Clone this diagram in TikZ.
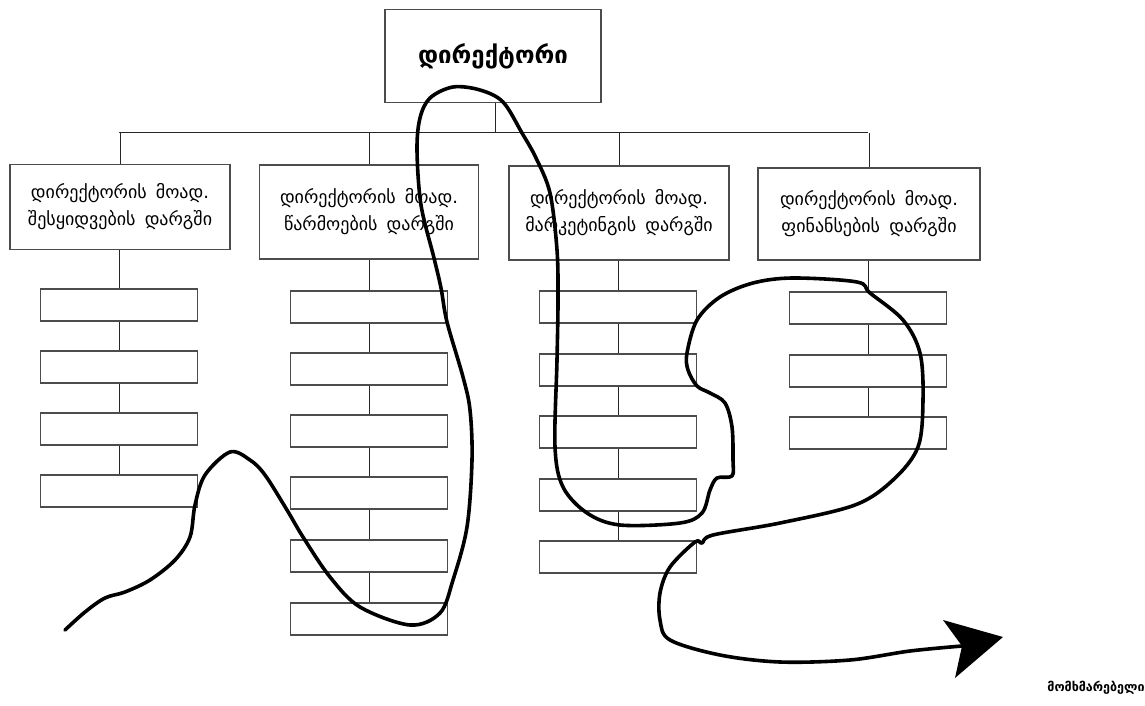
\documentclass[tikz,border=0pt]{standalone}
\usepackage{fontspec}
\setmainfont{DejaVu Sans}
\newfontfamily\geo[WordSpace={1.6}]{DejaVu Sans}
\begin{document}
\begin{tikzpicture}[x=1pt,y=-1pt,
  box/.style={draw=black!70,line width=1.3pt,fill=white,inner sep=0pt},
  headbox/.style={box,align=center,font=\geo\fontsize{18}{27}\selectfont},
  small/.style={box,minimum width=157pt,minimum height=32pt},
  conn/.style={draw=black!85,line width=1pt},
  freehand/.style={line width=3.6pt,line cap=round,line join=round}]
\useasboundingbox (0,0) rectangle (1145,706);
% top
\node[box,minimum width=216pt,minimum height=93pt,font=\geo\bfseries\fontsize{24}{26}\selectfont] (top) at (493,56) {დირექტორი};
\coordinate (bus) at (495,133);
\coordinate (busL) at (119,133);
\coordinate (busR) at (868,133);
\draw[conn] (top.south -| bus) -- (bus);
\draw[conn] (busL) -- (busR);
% level 2 heads
\node[headbox,minimum width=220pt,minimum height=85pt] (h1) at (120,207) {დირექტორის მოად.\\შესყიდვების დარგში};
\node[headbox,minimum width=219pt,minimum height=94pt] (h2) at (369,212) {დირექტორის მოად.\\წარმოების დარგში};
\node[headbox,minimum width=220pt,minimum height=94pt] (h3) at (619,213) {დირექტორის მოად.\\მარკეტინგის დარგში};
\node[headbox,minimum width=222pt,minimum height=92pt] (h4) at (869,214) {დირექტორის მოად.\\ფინანსების დარგში};
\foreach \h in {h1,h2,h3,h4}{
  \draw[conn] (\h.north |- bus) -- (\h.north);
}
% columns of small boxes
\foreach \y [count=\i] in {305,367,429,491}{
  \node[small] (a\i) at (119,\y) {};
}
\foreach \y [count=\i] in {307,369,431,493,556,619}{
  \node[small] (b\i) at (369,\y) {};
}
\foreach \y [count=\i] in {307,370,432,495,557}{
  \node[small] (c\i) at (618,\y) {};
}
\foreach \y [count=\i] in {308,371,433}{
  \node[small] (d\i) at (868,\y) {};
}
\draw[conn] (h1.south -| a1) -- (a1.north);
\draw[conn] (a1) -- (a2) (a2) -- (a3) (a3) -- (a4);
\draw[conn] (h2.south -| b1) -- (b1.north);
\draw[conn] (b1) -- (b2) (b2) -- (b3) (b3) -- (b4) (b4) -- (b5) (b5) -- (b6);
\draw[conn] (h3.south -| c1) -- (c1.north);
\draw[conn] (c1) -- (c2) (c2) -- (c3) (c3) -- (c4) (c4) -- (c5);
\draw[conn] (h4.south -| d1) -- (d1.north);
\draw[conn] (d1) -- (d2) (d2) -- (d3);
% customer
\node[font=\geo\bfseries\fontsize{12.5}{14}\selectfont,anchor=center] (cust) at (1096,688) {მომხმარებელი};
\coordinate (tail) at (962,646);
% freehand path
\draw[freehand] plot[smooth,tension=0.55] coordinates {
(65,630) (85,612) (105,598) (125,592) (150,580) (175,560) (190,537) (195,505) (205,475) (230,452) (250,460) (265,475) (287,510) (303,537) (330,577) (360,607) (410,625) (440,613) (453,580) (467,527) (472,460) (470,410) (463,377) (447,322) (441,288) (434,258) (421,205) (417,150) (420,118) (430,98) (453,87) (480,90) (503,102) (522,133) (536,158) (550,193) (557,250) (558,300) (557,360) (555,447) (563,487) (587,513) (620,525) (680,523) (702,513) (710,490) (717,478) (732,476) (733,460) (732,427) (725,403) (710,393) (697,386) (688,370) (687,353) (697,320) (720,297) (753,283) (793,278) (857,282) (870,293) (903,320) (920,353) (923,400) (918,447) (893,480) (855,505) (780,523) (713,535) (702,543) (695,542) (670,567) (660,593) (660,620) (670,640) (720,655) (780,662) (850,660) (910,651) (tail)};
\fill (1003,637) -- (943,620) -- (tail) -- (955,678) -- cycle;
\end{tikzpicture}
\end{document}
